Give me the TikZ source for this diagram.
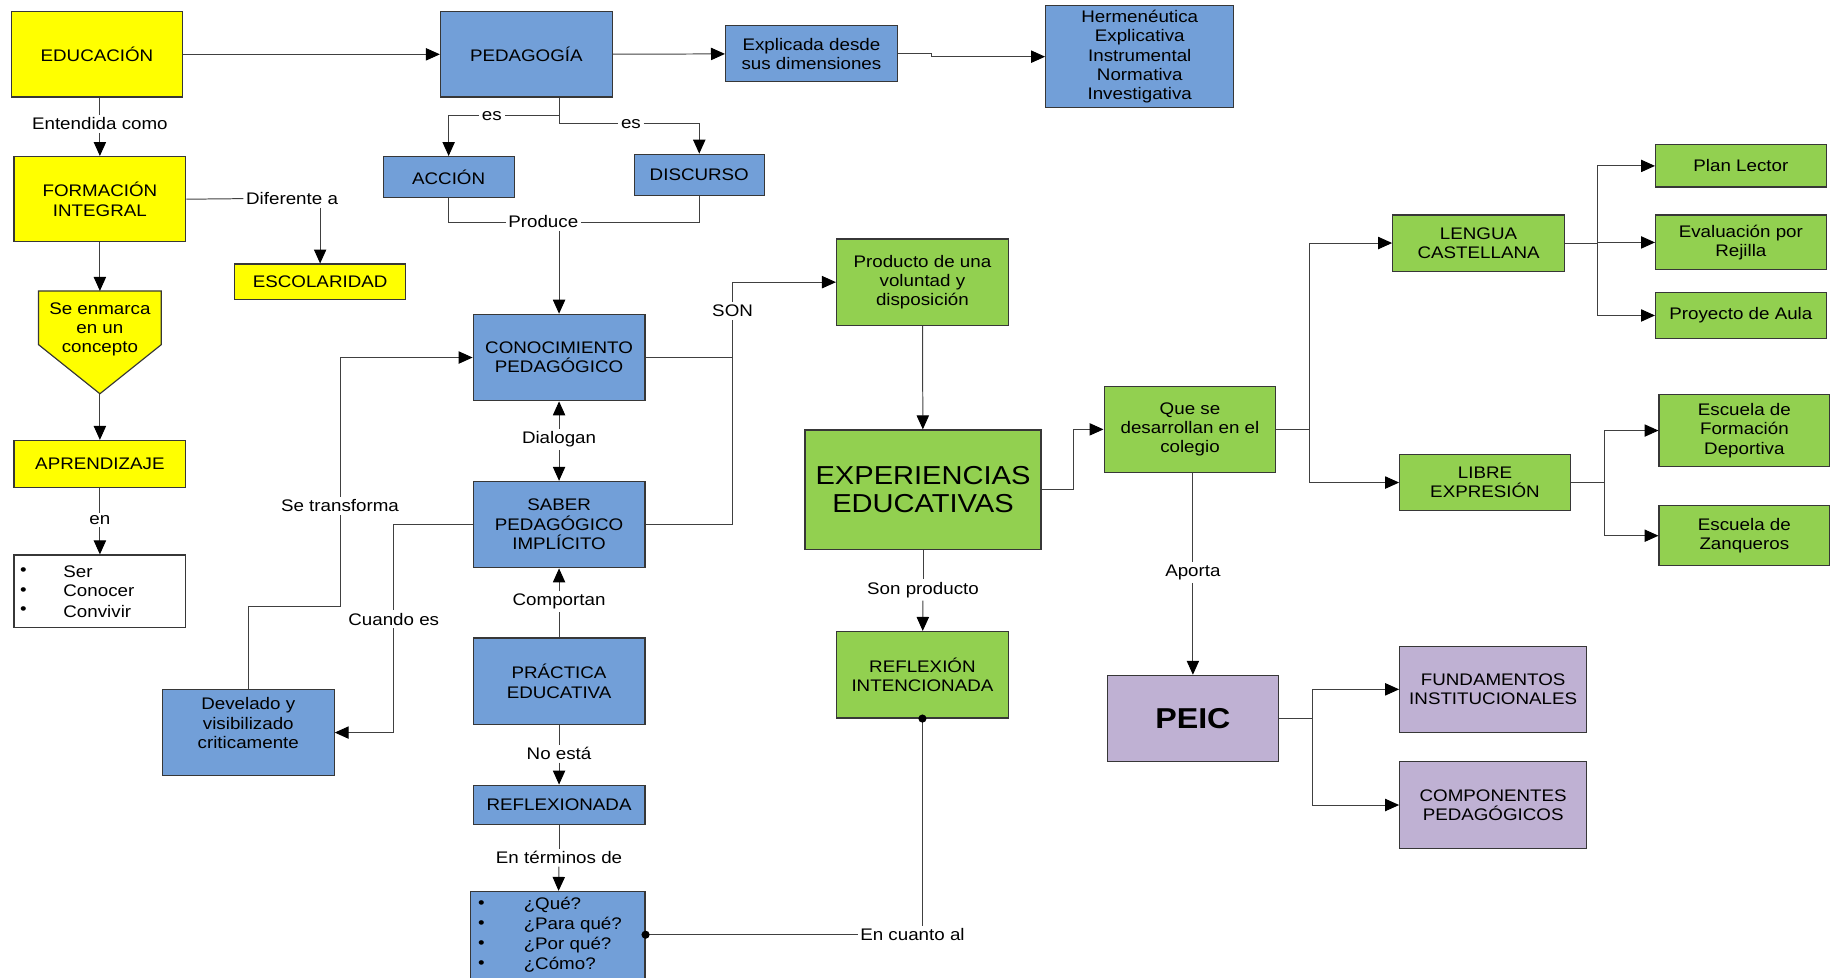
\documentclass[tikz,border=0pt]{standalone}
\usepackage{fontspec}
\setmainfont{Liberation Sans}[FakeStretch=1.12]
\usetikzlibrary{arrows.meta}
\definecolor{amarillo}{RGB}{255,255,0}
\definecolor{azul}{RGB}{114,159,216}
\definecolor{verde}{RGB}{146,208,80}
\definecolor{lila}{RGB}{191,177,211}
\definecolor{borde}{RGB}{55,55,55}
\newcommand{\cajafont}{\fontsize{10.2}{11.8}\selectfont}

\begin{document}
\begin{tikzpicture}[x=0.025cm,y=-0.025cm,
  caja/.style={draw=borde,line width=0.7pt,align=center,inner sep=0pt,font=\cajafont},
  amar/.style={caja,fill=amarillo},
  azu/.style={caja,fill=azul},
  ver/.style={caja,fill=verde},
  lil/.style={caja,fill=lila},
  normal/.style={minimum width=3.675cm,minimum height=1.85cm},
  etiq/.style={fill=white,inner sep=1.5pt,font=\cajafont},
  punto/.style={font=\cajafont,inner sep=0pt},
  linea/.style={draw=black!75,line width=0.6pt},
  flecha/.style={linea,-{Triangle[length=8.5pt,width=7.5pt,color=black]}}]
\useasboundingbox (0,0) rectangle (1568,837);
\node[amar,minimum width=3.65cm,minimum height=1.825cm] (educ) at (83,46.5) {EDUCACIÓN};
\node[azu,minimum width=3.675cm,minimum height=1.825cm] (peda) at (450.5,46.5) {PEDAGOGÍA};
\node[azu,minimum width=3.675cm,minimum height=1.2cm] (expl) at (694.5,46) {Explicada desde\\sus dimensiones};
\node[azu,minimum width=4.025cm,minimum height=2.175cm] (herm) at (975.5,48.5) {Hermenéutica\\Explicativa\\Instrumental\\Normativa\\Investigativa};
\node[azu,minimum width=2.8cm,minimum height=0.875cm] (accion) at (384,151.5) {ACCIÓN};
\node[azu,minimum width=2.775cm,minimum height=0.875cm] (discurso) at (598.5,149.5) {DISCURSO};
\node[amar,minimum width=3.675cm,minimum height=1.825cm] (formacion) at (85.5,170.5) {FORMACIÓN\\INTEGRAL};
\node[amar,minimum width=3.65cm,minimum height=0.75cm] (escol) at (274,241) {ESCOLARIDAD};
\filldraw[fill=amarillo,draw=borde,line width=0.7pt] (33,249) -- (138,249) -- (138,295) -- (85.5,337) -- (33,295) -- cycle;
\node[punto,align=center] (enmarca) at (85.5,282) {Se enmarca\\en un\\concepto};
\coordinate (enmarcasup) at (85.5,249);
\coordinate (enmarcapunta) at (85.5,337);
\node[amar,minimum width=3.675cm,minimum height=1cm] (aprend) at (85.5,397) {APRENDIZAJE};
\node[caja,fill=white,minimum width=3.675cm,minimum height=1.55cm] (listaser) at (85.5,506) {};
\foreach \palabra [count=\i] in {Ser,Conocer,Convivir} {
  \node[punto] (ser-b\i) at (20,472+17*\i) {\textbullet};
  \node[punto,anchor=west] (ser-t\i) at (54,472+17*\i) {\palabra};
}
\node[azu,normal] (conoc) at (478.5,306) {CONOCIMIENTO\\PEDAGÓGICO};
\node[azu,normal] (saber) at (478.5,449) {SABER\\PEDAGÓGICO\\IMPLÍCITO};
\node[azu,normal] (practica) at (478.5,583) {PRÁCTICA\\EDUCATIVA};
\node[azu,minimum width=3.675cm,minimum height=0.85cm] (reflexionada) at (478.5,689) {REFLEXIONADA};
\node[azu,minimum width=3.725cm,minimum height=1.925cm] (preguntas) at (477.5,801.5) {};
\foreach \palabra [count=\i] in {¿Qué?,¿Para qué?,¿Por qué?,¿Cómo?} {
  \node[punto] (preg-b\i) at (412,757+17.2*\i) {\textbullet};
  \node[punto,anchor=west] (preg-t\i) at (448,757+17.2*\i) {\palabra};
}
\node[azu,normal] (develado) at (212.5,627) {};
\node[punto,align=center] (develadotxt) at (212.5,619) {Develado y\\visibilizado\\criticamente};
\node[ver,normal] (producto) at (789.5,241.5) {Producto de una\\voluntad y\\disposición};
\node[ver,minimum width=5.05cm,minimum height=2.55cm,font=\fontsize{15.8}{17.5}\selectfont] (experiencias) at (790,419) {EXPERIENCIAS\\EDUCATIVAS};
\node[ver,normal] (reflexion) at (789.5,577.5) {REFLEXIÓN\\INTENCIONADA};
\node[ver,normal] (quese) at (1018.5,367.5) {Que se\\desarrollan en el\\colegio};
\node[ver,minimum width=3.675cm,minimum height=1.2cm] (lengua) at (1265.5,208) {LENGUA\\CASTELLANA};
\node[ver,minimum width=3.65cm,minimum height=1.2cm] (libre) at (1271,413) {LIBRE\\EXPRESIÓN};
\node[ver,minimum width=3.65cm,minimum height=0.9cm] (plan) at (1490,142) {Plan Lector};
\node[ver,minimum width=3.65cm,minimum height=1.175cm] (evaluacion) at (1490,207.5) {Evaluación por\\Rejilla};
\node[ver,minimum width=3.65cm,minimum height=1cm] (proyecto) at (1490,270) {Proyecto de Aula};
\node[ver,minimum width=3.65cm,minimum height=1.525cm] (escform) at (1493,368.5) {Escuela de\\Formación\\Deportiva};
\node[ver,minimum width=3.65cm,minimum height=1.275cm] (zanq) at (1493,458.5) {Escuela de\\Zanqueros};
\node[lil,minimum width=3.65cm,minimum height=1.85cm,font=\fontsize{17.5}{20}\selectfont\bfseries] (peic) at (1021,615) {PEIC};
\node[lil,minimum width=4cm,minimum height=1.85cm] (fund) at (1278,590) {FUNDAMENTOS\\INSTITUCIONALES};
\node[lil,minimum width=4cm,minimum height=1.85cm] (comp) at (1278,689) {COMPONENTES\\PEDAGÓGICOS};
\node[etiq] (lEntendida) at (85.5,106) {Entendida como};
\node[etiq] (lDiferente) at (250,170) {Diferente a};
\node[etiq] (lEn) at (85.5,445) {en};
\node[etiq] (lEs1) at (421,99) {es};
\node[etiq] (lEs2) at (540,106) {es};
\node[etiq] (lProduce) at (465,190) {Produce};
\node[etiq] (lDialogan) at (478.5,376) {Dialogan};
\node[etiq] (lComportan) at (478.5,515) {Comportan};
\node[etiq] (lNoesta) at (478.5,645) {No está};
\node[etiq] (lTerminos) at (478.5,734) {En términos de};
\node[etiq] (lSon) at (627,266) {SON};
\node[etiq] (lCuando) at (337,530) {Cuando es};
\node[etiq] (lTransforma) at (291,433) {Se transforma};
\node[etiq] (lSonproducto) at (790,505) {Son producto};
\node[etiq] (lCuanto) at (781,800) {En cuanto al};
\node[etiq] (lAporta) at (1021,490) {Aporta};
\coordinate (codo) at (212.5,519);
\draw[flecha] (educ) -- (peda);
\draw[flecha] (peda) -- (expl);
\draw[flecha] (expl.east) -- ++(29,0) |- (herm.west);
\draw[linea] (lEntendida |- educ.south) -- (lEntendida);
\draw[flecha] (lEntendida) -- (lEntendida |- formacion.north);
\draw[linea] (formacion.east) -- (lDiferente.west);
\draw[flecha] (lDiferente.south -| escol.north) -- (escol.north);
\draw[flecha] (formacion.south) -- (enmarcasup);
\draw[flecha] (enmarcapunta) -- (aprend.north);
\draw[linea] (aprend) -- (lEn);
\draw[flecha] (lEn) -- (listaser);
\draw[linea] (peda.south -| conoc.north) |- (lEs1.east);
\draw[flecha] (lEs1.west) -| (accion.north);
\draw[linea] (peda.south -| conoc.north) |- (lEs2.west);
\draw[flecha] (lEs2.east) -| (discurso.north);
\draw[linea] (accion.south) |- (lProduce.west);
\draw[linea] (discurso.south) |- (lProduce.east);
\draw[flecha] (lProduce.south -| conoc.north) -- (conoc.north);
\draw[flecha] (lDialogan) -- (conoc);
\draw[flecha] (lDialogan) -- (saber);
\draw[linea] (practica) -- (lComportan);
\draw[flecha] (lComportan) -- (saber);
\draw[linea] (practica) -- (lNoesta);
\draw[flecha] (lNoesta) -- (reflexionada);
\draw[linea] (reflexionada) -- (lTerminos);
\draw[flecha] (lTerminos) -- (preguntas);
\draw[linea] (conoc.east) -- (conoc.east -| lSon);
\draw[linea] (saber.east) -| (lSon.south);
\draw[flecha] (lSon.north) |- (producto.west);
\draw[linea] (saber.west) -| (lCuando.north);
\draw[flecha] (lCuando.south) |- (develado.east);
\draw[linea] (develado.north) -- (codo) -| (lTransforma.south);
\draw[flecha] (lTransforma.north) |- (conoc.west);
\draw[flecha] (producto) -- (experiencias);
\draw[linea] (experiencias) -- (lSonproducto);
\draw[flecha] (lSonproducto) -- (reflexion);
\draw[linea] (reflexion.south) -- (reflexion.south |- lCuanto.north);
\draw[linea] (lCuanto.west) -- (lCuanto.west -| preguntas.east);
\fill[black] (reflexion.south) circle (3.5);
\fill[black] (preguntas.east |- lCuanto) circle (3.5);
\draw[flecha] (experiencias.east) -- ++(27,0) |- (quese.west);
\draw[linea] (quese.east) -- ++(28,0) coordinate (nudoquese);
\foreach \destino in {lengua,libre}
  \draw[flecha] (nudoquese) |- (\destino.west);
\draw[linea] (lengua.east) -- ++(28,0) coordinate (nudolengua);
\foreach \destino in {plan,evaluacion,proyecto}
  \draw[flecha] (nudolengua) |- (\destino.west);
\draw[linea] (libre.east) -- ++(29,0) coordinate (nudolibre);
\foreach \destino in {escform,zanq}
  \draw[flecha] (nudolibre) |- (\destino.west);
\draw[linea] (lAporta |- quese.south) -- (lAporta);
\draw[flecha] (lAporta) -- (lAporta |- peic.north);
\draw[linea] (peic.east) -- ++(29,0) coordinate (nudopeic);
\foreach \destino in {fund,comp}
  \draw[flecha] (nudopeic) |- (\destino.west);
\end{tikzpicture}
\end{document}
